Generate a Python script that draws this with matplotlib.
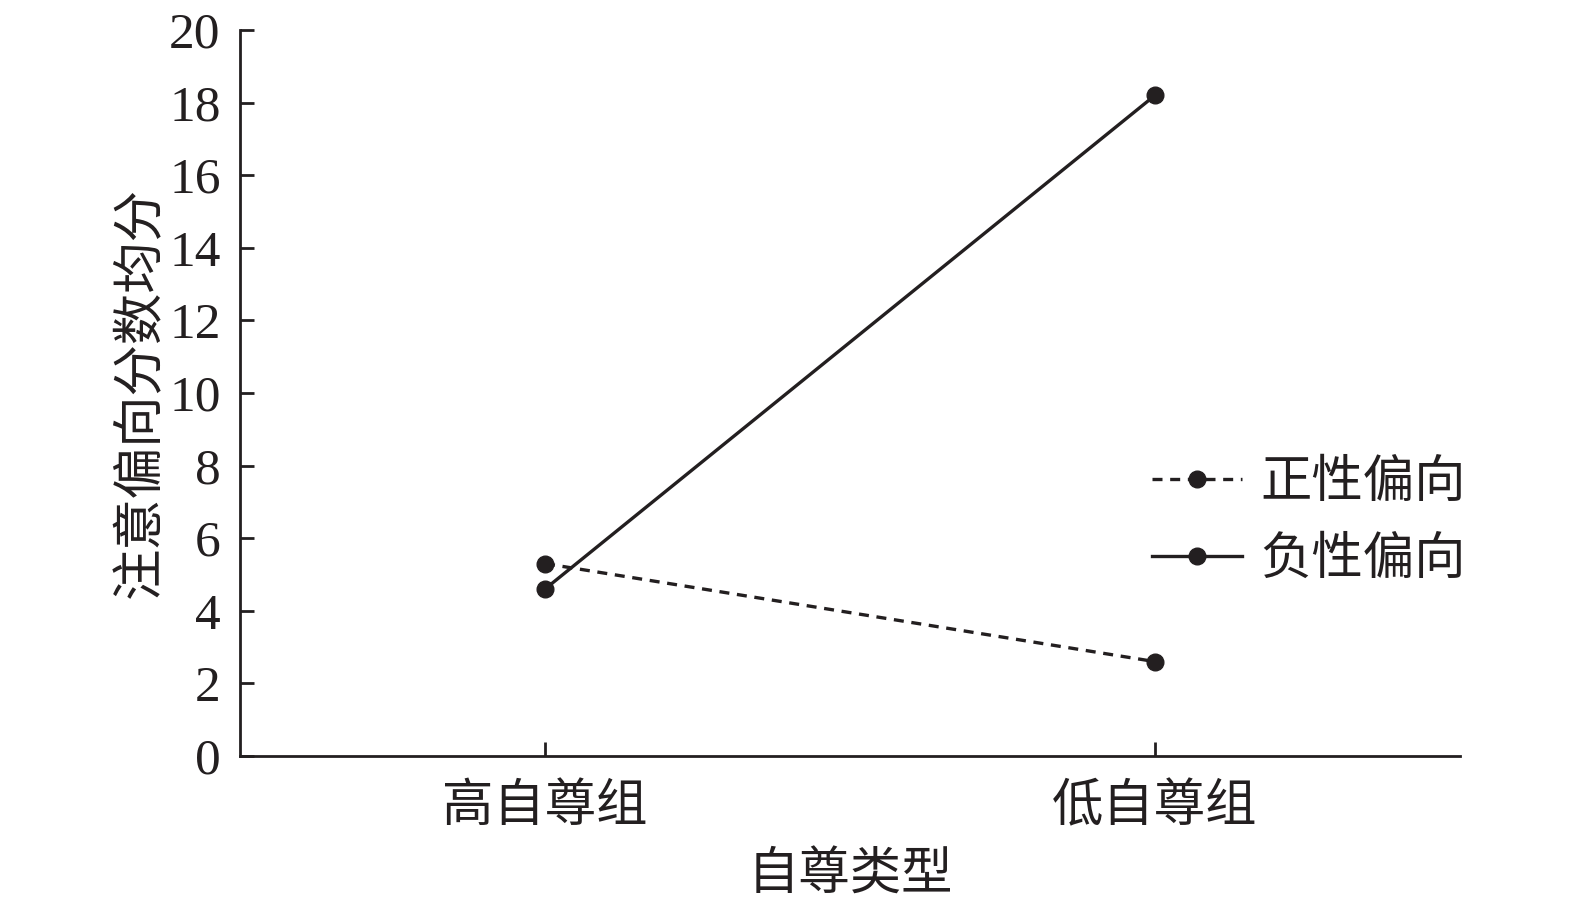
import matplotlib
matplotlib.use('Agg')
import matplotlib.pyplot as plt
import numpy as np

# ===== 数据 =====
groups = ['高自尊组', '低自尊组']
positive_bias = [5.3, 2.6]    # 正性偏向
negative_bias = [4.6, 18.2]   # 负性偏向
series_labels = ['正性偏向', '负性偏向']
y_ticks = [0, 2, 4, 6, 8, 10, 12, 14, 16, 18, 20]

# ===== 样式参数 =====
INK = '#231f20'
FONT_SIZE = 37
LINE_W = 2.4
MARKER_SIZE = 12

plt.rcParams['font.family'] = ['Liberation Serif', 'Noto Sans CJK SC', 'DejaVu Sans']
plt.rcParams['axes.unicode_minus'] = False

fig = plt.figure(figsize=(15.75, 9.08), dpi=100)
ax = fig.add_axes([0.1524, 0.1674, 0.927 - 0.1524, 0.967 - 0.1674])

x = np.arange(len(groups))
ax.plot(x, positive_bias, color=INK, linestyle=(0, (3, 2.3)), linewidth=LINE_W,
        marker='o', markersize=MARKER_SIZE, label=series_labels[0])
ax.plot(x, negative_bias, color=INK, linestyle='-', linewidth=LINE_W,
        marker='o', markersize=MARKER_SIZE, label=series_labels[1])

ax.set_xlim(-0.5, 1.5)
ax.set_ylim(0, 20)
ax.set_xticks(x)
ax.set_xticklabels(groups, fontsize=FONT_SIZE, color=INK)
ax.set_yticks(y_ticks)
ax.set_yticklabels([str(v) for v in y_ticks], fontsize=FONT_SIZE, color=INK)

for side in ['top', 'right']:
    ax.spines[side].set_visible(False)
for side in ['left', 'bottom']:
    ax.spines[side].set_linewidth(2)
    ax.spines[side].set_color(INK)
ax.tick_params(axis='both', direction='in', length=10, width=2, color=INK)
ax.tick_params(axis='y', pad=14)
ax.tick_params(axis='x', pad=20)

ax.set_xlabel('自尊类型', fontsize=FONT_SIZE, color=INK, labelpad=15)
ax.set_ylabel('注意偏向分数均分', fontsize=FONT_SIZE, color=INK, labelpad=2)

ax.legend(loc='center left', bbox_to_anchor=(0.71, 0.321), frameon=False,
          fontsize=FONT_SIZE, handlelength=1.75, handletextpad=0.35,
          labelspacing=0.58, labelcolor=INK)

plt.savefig('out.png', dpi=100, facecolor='white')
